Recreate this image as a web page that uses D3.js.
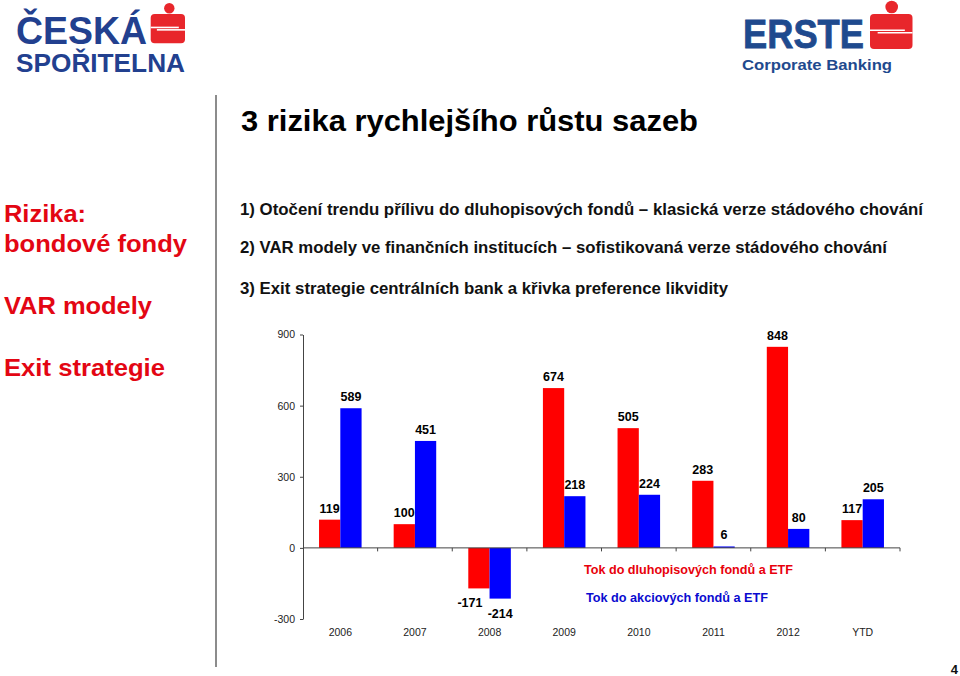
<!DOCTYPE html>
<html>
<head>
<meta charset="utf-8">
<script src="https://cdn.jsdelivr.net/npm/d3@7"></script>
<style>
  html, body { margin: 0; padding: 0; background: #fff; }
  svg { display: block; font-family: "Liberation Sans", Arial, sans-serif; }
</style>
</head>
<body>
<svg id="chart" width="960" height="676"></svg>
<script>
// ---- data ----
const categories = ["2006", "2007", "2008", "2009", "2010", "2011", "2012", "YTD"];
const bondFlows = [119, 100, -171, 674, 505, 283, 848, 117];
const equityFlows = [589, 451, -214, 218, 224, 6, 80, 205];
const seriesNames = ["Tok do dluhopisových fondů a ETF", "Tok do akciových fondů a ETF"];
const yTicks = [-300, 0, 300, 600, 900];
const sideItems = ["Rizika:", "bondové fondy", "VAR modely", "Exit strategie"];
const bullets = [
  "1) Otočení trendu přílivu do dluhopisových fondů – klasická verze stádového chování",
  "2) VAR modely ve finančních institucích – sofistikovaná verze stádového chování",
  "3) Exit strategie centrálních bank a křivka preference likvidity"
];
const titleText = "3 rizika rychlejšího růstu sazeb";

const RED = "#ff0000", BLUE = "#0000ff", SIDE_RED = "#e30613";
const svg = d3.select("#chart");
svg.append("rect").attr("width", 960).attr("height", 676).attr("fill", "#fff");

// ---- logos ----
const csBlue = "#22408f", ersteBlue = "#1f4a8e", logoRed = "#e8262b";
function sLogo(g, x0, y0, w, h, cx, cy, r) {
  g.append("circle").attr("cx", cx).attr("cy", cy).attr("r", r).attr("fill", logoRed);
  g.append("rect").attr("x", x0).attr("y", y0).attr("width", w).attr("height", h)
    .attr("rx", 4).attr("fill", logoRed);
  const my = y0 + h * 0.5;
  g.append("line").attr("x1", x0).attr("x2", x0 + w * 0.82).attr("y1", my - 1.2).attr("y2", my - 1.2)
    .attr("stroke", "#fff").attr("stroke-width", 1.6);
  g.append("line").attr("x1", x0 + w * 0.18).attr("x2", x0 + w).attr("y1", my + 1.2).attr("y2", my + 1.2)
    .attr("stroke", "#fff").attr("stroke-width", 1.6);
}
const logos = svg.append("g");
logos.append("text").attr("x", 16).attr("y", 43.5).attr("font-size", 39).attr("font-weight", "bold")
  .attr("fill", csBlue).attr("textLength", 131).attr("lengthAdjust", "spacingAndGlyphs").text("ČESKÁ");
logos.append("text").attr("x", 16).attr("y", 71.7).attr("font-size", 25.5).attr("font-weight", "bold")
  .attr("fill", csBlue).attr("textLength", 169).attr("lengthAdjust", "spacingAndGlyphs").text("SPOŘITELNA");
sLogo(logos, 150.7, 14, 34.3, 29.3, 169.3, 8.3, 5.2);

logos.append("text").attr("x", 743).attr("y", 47.5).attr("font-size", 41).attr("font-weight", "bold")
  .attr("fill", ersteBlue).attr("textLength", 121).attr("lengthAdjust", "spacingAndGlyphs")
  .attr("stroke", ersteBlue).attr("stroke-width", 0.8).text("ERSTE");
logos.append("text").attr("x", 742).attr("y", 69.5).attr("font-size", 14.5).attr("font-weight", "bold")
  .attr("fill", ersteBlue).attr("textLength", 150).attr("lengthAdjust", "spacingAndGlyphs").text("Corporate Banking");
sLogo(logos, 870, 14, 42.5, 35, 891.7, 7, 6.3);

// ---- separator ----
svg.append("line").attr("x1", 216).attr("x2", 216).attr("y1", 95).attr("y2", 667)
  .attr("stroke", "#666").attr("stroke-width", 1.5);

// ---- title ----
svg.append("text").attr("x", 241).attr("y", 131).attr("font-size", 30).attr("font-weight", "bold")
  .attr("fill", "#000").attr("textLength", 457).attr("lengthAdjust", "spacingAndGlyphs").text(titleText);

// ---- side texts ----
const sideY = [222, 252, 313.5, 375.5];
const sideW = [82, 183, 148, 161];
svg.append("g").selectAll("text").data(sideItems).join("text")
  .attr("x", 4).attr("y", (d, i) => sideY[i]).attr("font-size", 24.5).attr("font-weight", "bold")
  .attr("fill", SIDE_RED).attr("textLength", (d, i) => sideW[i]).attr("lengthAdjust", "spacingAndGlyphs")
  .text(d => d);

// ---- bullets ----
const bulletY = [214.5, 253, 293.5];
const bulletW = [683, 647, 488];
svg.append("g").selectAll("text").data(bullets).join("text")
  .attr("x", 240).attr("y", (d, i) => bulletY[i])
  .attr("font-family", "'Liberation Sans Narrow', 'Arial Narrow', 'Liberation Sans', Arial, sans-serif")
  .attr("font-size", 16.5).attr("font-weight", "bold").attr("fill", "#111")
  .attr("textLength", (d, i) => bulletW[i]).attr("lengthAdjust", "spacingAndGlyphs")
  .text(d => d);

// ---- chart ----
const plotLeft = 303, plotRight = 900;
const y = d3.scaleLinear().domain([-300, 900]).range([619, 334.5]);
const x = d3.scaleBand().domain(categories).range([plotLeft, plotRight])
  .paddingInner(0.43).paddingOuter(0.215);
const xs = d3.scaleBand().domain([0, 1]).range([0, x.bandwidth()]);
const step = x.step();

const chart = svg.append("g");

// y axis
const yAxis = chart.append("g").attr("transform", `translate(${plotLeft},0)`)
  .call(d3.axisLeft(y).tickValues(yTicks).tickSize(3).tickSizeOuter(0).tickPadding(5).tickFormat(d => String(d)));
yAxis.select(".domain").attr("stroke", "#444");
yAxis.selectAll(".tick line").attr("stroke", "#444");
yAxis.selectAll(".tick text").attr("font-size", 10.5).attr("fill", "#222")
  .attr("font-family", "'Liberation Sans', Arial, sans-serif");

// bars
const rows = categories.map((c, i) => ({ cat: c, vals: [bondFlows[i], equityFlows[i]] }));
const colors = [RED, BLUE];
const groups = chart.append("g").selectAll("g").data(rows).join("g")
  .attr("transform", d => `translate(${x(d.cat)},0)`);
groups.selectAll("rect").data(d => d.vals.map((v, k) => ({ v, k }))).join("rect")
  .attr("x", d => xs(d.k)).attr("width", xs.bandwidth())
  .attr("y", d => Math.min(y(d.v), y(0))).attr("height", d => Math.abs(y(d.v) - y(0)))
  .attr("fill", d => colors[d.k]);
groups.selectAll("text.val").data(d => d.vals.map((v, k) => ({ v, k }))).join("text")
  .attr("class", "val")
  .attr("x", d => xs(d.k) + xs.bandwidth() / 2 - (d.v < 0 && d.k === 0 ? 9 : 0))
  .attr("y", d => d.v >= 0 ? y(d.v) - 7 : y(d.v) + 19)
  .attr("text-anchor", "middle").attr("font-size", 12.5).attr("font-weight", "bold").attr("fill", "#000")
  .text(d => String(d.v));

// zero line + category boundary ticks
chart.append("line").attr("x1", plotLeft).attr("x2", plotRight).attr("y1", y(0)).attr("y2", y(0))
  .attr("stroke", "#444").attr("stroke-width", 1);
const boundaries = categories.map(c => x(c) + x.bandwidth() + step * 0.215);
chart.append("g").selectAll("line").data(boundaries).join("line")
  .attr("x1", d => d).attr("x2", d => d).attr("y1", y(0)).attr("y2", y(0) + 3.5)
  .attr("stroke", "#444");

// x labels
const xAxis = chart.append("g").attr("transform", `translate(0,${y(-300)})`)
  .call(d3.axisBottom(x).tickSize(0).tickPadding(10));
xAxis.select(".domain").remove();
xAxis.selectAll(".tick text").attr("font-size", 10.5).attr("fill", "#222")
  .attr("font-family", "'Liberation Sans', Arial, sans-serif");

// legend
const legY = [573.5, 601.5], legX = [584, 586], legW = [209, 182];
chart.append("g").selectAll("text").data(seriesNames).join("text")
  .attr("x", (d, i) => legX[i]).attr("y", (d, i) => legY[i])
  .attr("font-size", 12.5).attr("font-weight", "bold")
  .attr("fill", (d, i) => i === 0 ? "#e8000b" : "#0a0ad0")
  .attr("textLength", (d, i) => legW[i]).attr("lengthAdjust", "spacingAndGlyphs")
  .text(d => d);

// page number
svg.append("text").attr("x", 958).attr("y", 674).attr("text-anchor", "end")
  .attr("font-size", 13).attr("font-weight", "bold").attr("fill", "#111").text("4");
</script>
</body>
</html>
